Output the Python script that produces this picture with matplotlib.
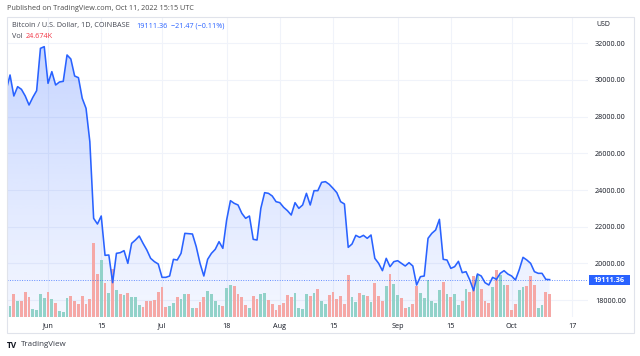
import numpy as np
import pandas as pd
import matplotlib
matplotlib.use("Agg")
import matplotlib.pyplot as plt
import matplotlib.dates as mdates
from matplotlib.patches import Rectangle

plt.rcParams['font.family'] = ['Open Sans', 'DejaVu Sans']

# daily closes BTC/USD, May 21 -> Oct 11 2022
close_may = [29455, 30273, 29127, 29636, 29491, 29127, 28636, 29055, 29418, 31727, 31818]
close_jun = [29818, 30455, 29727, 29891, 29927, 31364, 31145, 30218, 30127, 29000,
             28455, 26636, 22455, 22145, 22582, 20436, 20455, 18945, 20545, 20582,
             20691, 20000, 21091, 21273, 21491, 21091, 20727, 20273, 20091, 19964]
close_jul = [19236, 19236, 19309, 20218, 20182, 20545, 21636, 21618, 21600, 20909,
             20000, 19309, 20218, 20545, 20764, 21182, 20818, 22364, 23418, 23273,
             23182, 22727, 22455, 22582, 21309, 21273, 23000, 23855, 23818, 23673, 23364]
close_aug = [23309, 23055, 22873, 22636, 23309, 23000, 23182, 23818, 23182, 23964,
             23964, 24418, 24455, 24309, 24091, 23855, 23364, 23236, 20873, 21055,
             21527, 21418, 21527, 21364, 21545, 20273, 20000, 19600, 20273, 19818, 20091]
close_sep = [20145, 20000, 19855, 20036, 19855, 18818, 19273, 19309, 21364, 21636,
             21818, 22400, 20218, 20182, 19727, 19818, 20109, 19491, 19545, 19091,
             18509, 19418, 19309, 18945, 18818, 19236, 19127, 19455, 19600, 19418]
close_oct = [19309, 19091, 19650, 20327, 20182, 20000, 19545, 19455, 19455, 19127, 19111.36]

# volume in thousands
vol_may = [10.1, 12.0, 25.4, 17.8, 17.8, 26.9, 21.5, 8.4, 7.6, 25.4, 21.0]
vol_jun = [27.3, 19.3, 15.6, 6.5, 5.8, 20.4, 23.2, 17.1, 13.8, 23.2,
           13.8, 19.3, 81.0, 47.2, 61.8, 37.4, 26.2, 52.0, 29.1, 25.4,
           24.0, 26.5, 21.8, 21.8, 13.1, 11.2, 17.4, 17.4, 18.2, 27.6]
vol_jul = [33.0, 10.9, 12.3, 14.9, 22.1, 19.3, 25.1, 25.1, 10.1, 10.1,
           16.4, 22.1, 28.0, 24.7, 17.8, 13.4, 11.7, 31.6, 34.6, 34.1,
           24.7, 21.8, 13.1, 9.8, 22.9, 19.9, 24.7, 25.8, 18.5, 13.8, 8.0]
vol_aug = [12.8, 15.6, 24.0, 22.1, 26.5, 10.1, 8.7, 24.7, 22.6, 25.8,
           30.2, 17.4, 14.5, 23.7, 27.6, 19.9, 23.2, 14.5, 45.8, 21.8,
           16.4, 26.5, 23.7, 22.9, 16.7, 37.1, 22.9, 17.4, 33.8, 46.5, 36.3]
vol_sep = [24.0, 20.4, 10.1, 10.9, 13.8, 33.5, 25.8, 20.4, 40.0, 17.4,
           15.3, 29.1, 37.8, 25.4, 21.8, 25.4, 12.8, 17.4, 30.5, 27.6,
           44.7, 45.8, 30.8, 17.4, 15.3, 32.7, 51.6, 45.8, 34.9, 34.6]
vol_oct = [8.0, 13.8, 29.1, 32.7, 33.8, 44.4, 34.9, 10.1, 13.1, 26.9, 24.674]

# candle direction per day: G = up, R = down
dir_may = "GGRGRRRGGGG"
dir_jun = "RGRGGGRRRRRRRRGRGRGRGRGGGRRRRR"
dir_jul = "RRGGRGGRGRRRGGGGRGGRRRRGRRGGRRR"
dir_aug = "RRRRGGGGRGRGGRRRRRRGGRGRGRRRGRG"
dir_sep = "GRRGRRGGGGGGRGRGGRGRRGRRRGRGGR"
dir_oct = "RRGGRRRGGRR"

tick_dates = ["2022-06-01", "2022-06-15", "2022-07-01", "2022-07-18", "2022-08-01",
              "2022-08-15", "2022-09-01", "2022-09-15", "2022-10-01", "2022-10-17"]
tick_names = ["Jun", "15", "Jul", "18", "Aug", "15", "Sep", "15", "Oct", "17"]
price_ticks = [18000, 20000, 22000, 24000, 26000, 28000, 30000, 32000]

close = np.array(close_may + close_jun + close_jul + close_aug + close_sep + close_oct)
vol = np.array(vol_may + vol_jun + vol_jul + vol_aug + vol_sep + vol_oct)
dirs = dir_may + dir_jun + dir_jul + dir_aug + dir_sep + dir_oct
dates = pd.date_range("2022-05-21", periods=len(close), freq="D")
xd = mdates.date2num(dates)

W, H = 640, 356
def fx(px):
    return px / W
def fy(py):
    return 1 - py / H

BLUE = "#2962ff"
TXT = "#131722"

fig = plt.figure(figsize=(6.4, 3.56), dpi=100)
fig.patch.set_facecolor("white")

L, R, T, B = 7, 588, 17, 317
rect = [fx(L), fy(B), fx(R) - fx(L), fy(T) - fy(B)]
xmin = mdates.date2num(pd.Timestamp("2022-05-21")) + 0.2
xmax = mdates.date2num(pd.Timestamp("2022-10-21")) + 0.1
ymin, ymax = 17073, 33436

# base price axes: grid, ticks, gradient fill
ax = fig.add_axes(rect, zorder=1)
ax.patch.set_visible(False)

poly = ax.fill_between(xd, close, ymin, color="none", linewidth=0)
grad = np.zeros((256, 1, 4))
grad[:, 0, 0] = 41 / 255
grad[:, 0, 1] = 98 / 255
grad[:, 0, 2] = 1.0
ys = np.linspace(ymax, ymin, 256)
frac = np.clip((ys - ymin) / (close.max() - ymin), 0, 1)
grad[:, 0, 3] = 0.05 + 0.21 * frac
img = ax.imshow(grad, extent=[xmin, xmax, ymin, ymax], aspect="auto",
                origin="upper", zorder=1)
img.set_clip_path(poly.get_paths()[0], transform=ax.transData)
ax.set_xlim(xmin, xmax)
ax.set_ylim(ymin, ymax)

ax.set_yticks(price_ticks)
ax.set_yticklabels(["%.2f" % p for p in price_ticks])
ax.set_xticks(mdates.date2num(pd.to_datetime(tick_dates)))
ax.set_xticklabels(tick_names)
ax.grid(True, color="#f0f3fa", lw=0.8)
ax.set_axisbelow(True)
ax.yaxis.tick_right()
ax.tick_params(axis="y", length=0, pad=5, labelsize=5.2, labelcolor=TXT)
ax.tick_params(axis="x", length=0, pad=4, labelsize=5.2, labelcolor=TXT)
for s in ax.spines.values():
    s.set_visible(False)

# volume bars
axv = fig.add_axes(rect, zorder=2)
axv.patch.set_visible(False)
axv.bar(xd, vol, width=0.76,
        color=["#92d2c9" if c == "G" else "#f5a8a6" for c in dirs], linewidth=0)
axv.set_xlim(xmin, xmax)
axv.set_ylim(0, 327)
axv.axis("off")

# price line on top
axl = fig.add_axes(rect, zorder=3)
axl.patch.set_visible(False)
axl.plot(xd, close, color=BLUE, lw=1.15, solid_joinstyle="round")
axl.axhline(close[-1], color=BLUE, lw=0.7, ls=(0, (1, 1.5)), alpha=0.7)
axl.set_xlim(xmin, xmax)
axl.set_ylim(ymin, ymax)
axl.axis("off")

# frame
fig.add_artist(Rectangle((fx(7), fy(333)), fx(634) - fx(7), fy(17) - fy(333),
                         transform=fig.transFigure, fill=False,
                         edgecolor="#e0e3eb", lw=0.8, zorder=10))

# last price badge
fig.add_artist(Rectangle((fx(589), fy(285)), fx(41), 10 / H,
                         transform=fig.transFigure, color=BLUE, lw=0, zorder=11))
fig.text(fx(609.5), fy(280), "19111.36", color="white", fontsize=5.2,
         fontweight="bold", ha="center", va="center", zorder=12)

fig.text(fx(596), fy(25), "USD", color=TXT, fontsize=5, va="center")

# header
fig.text(fx(7), fy(9), "Published on TradingView.com, Oct 11, 2022 15:15 UTC",
         color="#4a4a4a", fontsize=5.2, va="center")
fig.text(fx(12), fy(26), "Bitcoin / U.S. Dollar, 1D, COINBASE",
         color="#434651", fontsize=5.2, va="center")
fig.text(fx(136), fy(26), "19111.36", color=BLUE, fontsize=5.2, va="center")
fig.text(fx(171), fy(26), "\u221221.47 (\u22120.11%)", color=BLUE,
         fontsize=5.2, va="center")
fig.text(fx(12), fy(37), "Vol", color="#434651", fontsize=5.2, va="center")
fig.text(fx(26), fy(37), "24.674K", color="#f23645", fontsize=5.2, va="center")

# footer logo
fig.text(fx(7), fy(345), "TV", color=TXT, fontsize=6, fontweight="bold",
         va="center")
fig.text(fx(21), fy(345), "TradingView", color="#363a45", fontsize=5.8,
         va="center")

fig.savefig("out.png", dpi=100)
